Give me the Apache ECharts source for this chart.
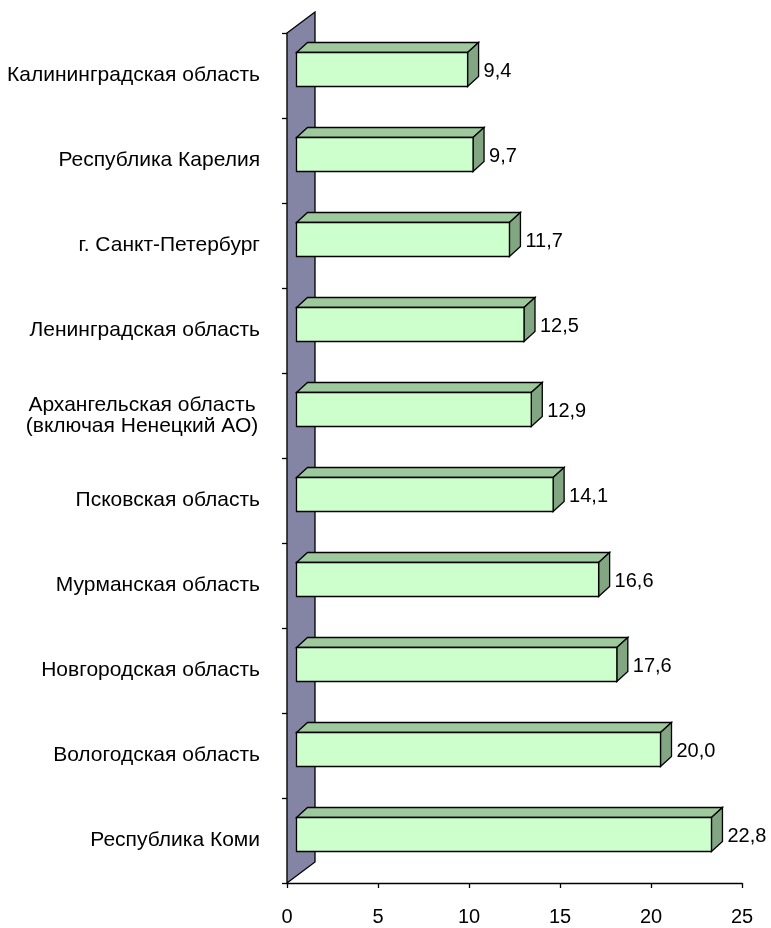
<!DOCTYPE html>
<html>
<head>
<meta charset="utf-8">
<script src="https://cdn.jsdelivr.net/npm/echarts@6/dist/echarts.min.js"></script>
<style>html,body{margin:0;padding:0;background:#fff}#c{width:771px;height:928px}</style>
</head>
<body>
<div id="c"></div>
<script>
var categories = ['Калининградская область','Республика Карелия','г. Санкт-Петербург','Ленинградская область','Архангельская область\n(включая Ненецкий АО)','Псковская область','Мурманская область','Новгородская область','Вологодская область','Республика Коми'];
var values = [9.4, 9.7, 11.7, 12.5, 12.9, 14.1, 16.6, 17.6, 20.0, 22.8];
var xMin = 0, xMax = 25, xInterval = 5;

var FONT = '"Liberation Sans", Arial, sans-serif';
var chart = echarts.init(document.getElementById('c'), null, {renderer: 'canvas'});

var barData = values.map(function (v, i) { return [v, i]; });

function renderBar(params, api) {
  var v = api.value(0), idx = api.value(1);
  var band = api.size([0, 1])[1];
  var c0 = api.coord([0, idx]);
  var c1 = api.coord([v, idx]);
  var off = 9.5;
  var x0 = c0[0] + off, x1 = c1[0] + off;
  var yT = c0[1] - band * 23 / 85, yB = c0[1] + band * 11 / 85;
  var dx = 11, dy = -10;
  var st = {stroke: '#000', lineWidth: 1.3};
  return {
    type: 'group',
    children: [
      {type: 'polygon', shape: {points: [[x0, yT], [x0 + dx, yT + dy], [x1 + dx, yT + dy], [x1, yT]]}, style: Object.assign({fill: '#9dc99d'}, st)},
      {type: 'polygon', shape: {points: [[x1, yT], [x1 + dx, yT + dy], [x1 + dx, yB + dy], [x1, yB]]}, style: Object.assign({fill: '#82a582'}, st)},
      {type: 'rect', shape: {x: x0, y: yT, width: x1 - x0, height: yB - yT}, style: Object.assign({fill: '#ccffcc'}, st)},
      {type: 'text', style: {text: v.toFixed(1).replace('.', ','), x: x1 + 16, y: (yT + yB) / 2 + 2, font: '20px ' + FONT, fill: '#000', align: 'left', verticalAlign: 'middle'}}
    ]
  };
}

function renderWall(params, api) {
  var cs = params.coordSys;
  var x = cs.x, y = cs.y, h = cs.height;
  var dx = 28, dy = -21;
  return {
    type: 'polygon',
    shape: {points: [[x, y], [x + dx, y + dy], [x + dx, y + h + dy], [x, y + h]]},
    style: {fill: '#8484a4', stroke: '#000', lineWidth: 1.3}
  };
}

chart.setOption({
  animation: false,
  backgroundColor: '#fff',
  grid: {left: 287, right: 29, top: 33, bottom: 45, containLabel: false},
  xAxis: {
    type: 'value', min: xMin, max: xMax, interval: xInterval,
    axisLine: {show: true, lineStyle: {color: '#000', width: 1.3}},
    axisTick: {show: true, length: 5, lineStyle: {color: '#000', width: 1.3}},
    axisLabel: {color: '#000', fontSize: 20, fontFamily: FONT, margin: 24},
    splitLine: {show: false}
  },
  yAxis: {
    type: 'category', data: categories, inverse: true,
    axisLine: {show: true, lineStyle: {color: '#000', width: 1.3}},
    axisTick: {show: true, length: 5, lineStyle: {color: '#000', width: 1.3}},
    axisLabel: {
      color: '#000', fontSize: 21, fontFamily: FONT, margin: 27, lineHeight: 21,
      formatter: function (s) {
        if (s.indexOf('\n') >= 0) {
          return s.split('\n').map(function (p) { return '{c|' + p + '}'; }).join('\n');
        }
        return s;
      },
      rich: {c: {width: 236, align: 'center', fontSize: 21, fontFamily: FONT, color: '#000', lineHeight: 21}}
    },
    splitLine: {show: false}
  },
  series: [
    {type: 'custom', renderItem: renderWall, data: [[0, 0]], encode: {x: 0, y: 1}, z: 1, silent: true},
    {type: 'custom', renderItem: renderBar, data: barData, encode: {x: 0, y: 1}, z: 2, silent: true}
  ]
});
</script>
</body>
</html>
